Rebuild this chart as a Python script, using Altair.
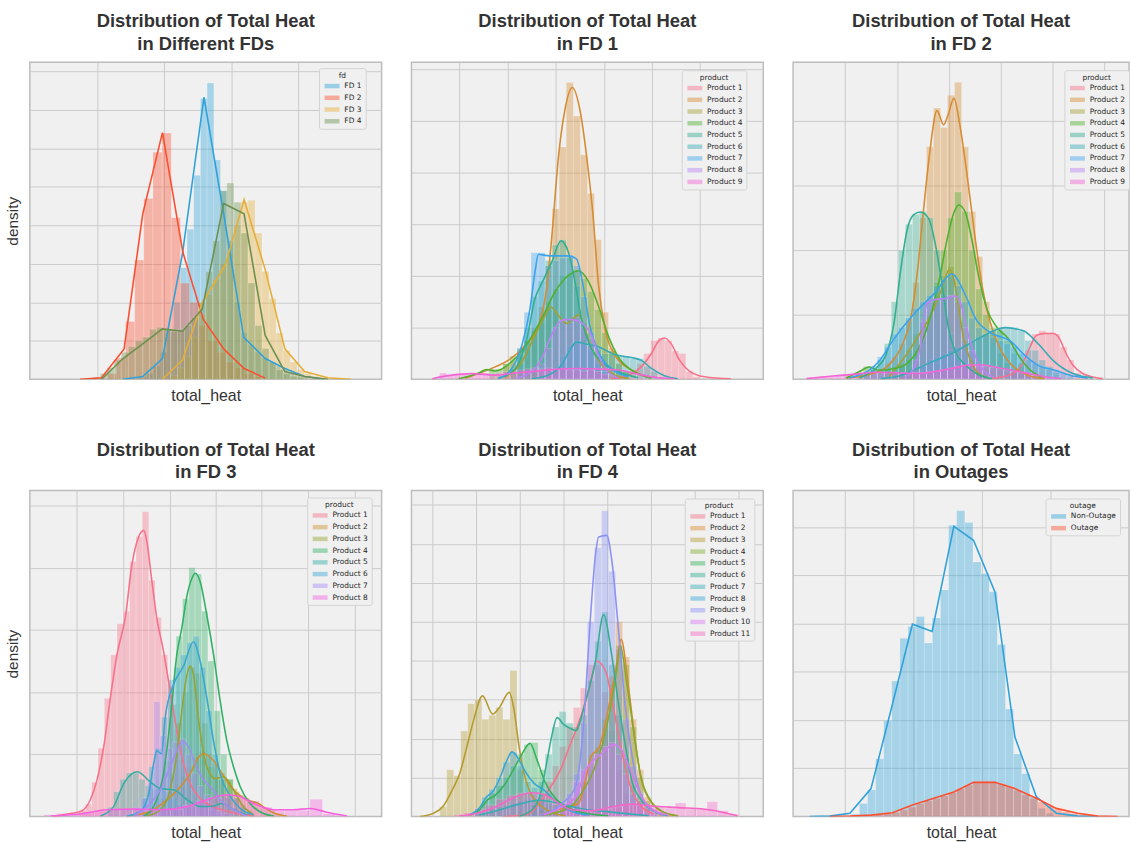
import altair as alt
import pandas as pd

# ---------------- Panel 1: all FDs ----------------
P1_TITLE = ["Distribution of Total Heat", "in Different FDs"]
P1_NAMES = ["FD 1", "FD 2", "FD 3", "FD 4"]
P1_COLORS = ["#30a2da", "#fc4f30", "#e5ae38", "#6d904f"]
P1_FD1_HIST = (31.4, 1.9, [0.05, 0.15, 0.35, 0.7, 1.3, 2.0, 2.9, 3.9, 5.3, 7.3, 7.7, 5.7, 4.9, 3.6, 2.0, 1.2, 0.9, 0.7, 0.55, 0.45, 0.35, 0.25, 0.15, 0.1, 0.05])
P1_FD2_HIST = (22.0, 2.6, [0.15, 0.55, 1.5, 3.1, 4.7, 5.9, 6.4, 4.2, 2.5, 2.0, 1.4, 1.0, 0.7, 0.45, 0.3, 0.15, 0.07])
P1_FD3_HIST = (40.0, 2.0, [0.1, 0.3, 0.6, 1.1, 1.7, 2.2, 2.6, 3.0, 3.3, 4.0, 4.6, 4.65, 3.8, 2.8, 2.1, 1.2, 0.75, 0.45, 0.25, 0.15, 0.08, 0.05, 0.03])
P1_FD4_HIST = (18.0, 2.0, [0.05, 0.15, 0.3, 0.5, 0.7, 0.85, 1.0, 1.1, 1.3, 1.35, 1.3, 1.25, 1.3, 1.4, 1.6, 2.0, 2.8, 3.6, 4.9, 5.1, 4.6, 3.8, 2.5, 1.4, 0.8, 0.45, 0.25, 0.15, 0.08, 0.05])
P1_FD1_CURVE = [(26.5, 0.0), (32.1, 0.07), (37.7, 0.54), (43.4, 3.27), (49.5, 7.33), (55.1, 4.30), (60.8, 1.09), (66.9, 0.54), (72.5, 0.28), (78.1, 0.07), (83.8, 0.0)]
P1_FD2_CURVE = [(14.3, 0.0), (20.4, 0.04), (26.8, 0.79), (32.1, 4.30), (37.7, 6.41), (43.5, 3.30), (49.3, 1.56), (55.1, 0.79), (60.9, 0.28), (66.9, 0.03)]
P1_FD3_CURVE = [(37.7, 0.0), (43.4, 0.50), (49.0, 1.99), (55.6, 2.97), (60.9, 4.67), (66.9, 2.85), (72.5, 0.79), (78.1, 0.20), (84.7, 0.04), (91.3, 0.0)]
P1_FD4_CURVE = [(20.4, 0.0), (26.5, 0.54), (32.1, 0.92), (37.7, 1.31), (43.4, 1.25), (49.0, 1.82), (55.1, 4.57), (60.9, 4.30), (66.9, 1.14), (72.5, 0.20), (78.1, 0.07), (84.7, 0.0)]

# ---------------- Panel 2: FD 1 ----------------
P2_TITLE = ["Distribution of Total Heat", "in FD 1"]
P2_NAMES = ["Product %d" % i for i in range(1, 10)]
P2_COLORS = ["#f77189", "#d58c32", "#a4a031", "#50b131", "#34ae91", "#37abb5", "#3ba3ec", "#bb83f4", "#f564d4"]
P2_PR1_HIST = (62, 2, [0.15, 0.3, 0.5, 0.75, 0.8, 0.75, 0.55, 0.5, 0.15, 0.05])
P2_PR2_HIST = (26, 2, [0.3, 0.35, 0.5, 0.75, 1.0, 1.4, 2.2, 3.3, 4.5, 5.75, 5.1, 4.35, 3.6, 2.7, 1.3, 0.6, 0.3, 0.15])
P2_PR3_HIST = (30, 2, [0.3, 0.6, 0.9, 1.1, 1.4, 1.3, 1.1, 1.15, 1.25, 0.9, 0.55, 0.25, 0.1])
P2_PR4_HIST = (22, 2, [0.2, 0.2, 0.3, 0.45, 0.6, 0.75, 0.95, 1.2, 1.5, 1.75, 2.0, 2.05, 2.1, 1.95, 1.7, 1.35, 0.9, 0.55, 0.3, 0.15])
P2_PR5_HIST = (28, 2, [0.2, 0.5, 1.0, 1.6, 1.9, 2.3, 2.6, 2.7, 2.35, 1.8, 1.1, 0.6, 0.3, 0.15])
P2_PR6_HIST = (40, 2, [0.2, 0.45, 0.65, 0.75, 0.7, 0.65, 0.6, 0.5, 0.5, 0.45, 0.45, 0.4, 0.4, 0.25, 0.15, 0.05])
P2_PR7_HIST = (30, 2, [0.6, 1.3, 2.45, 2.45, 2.2, 2.3, 2.35, 2.4, 2.2, 1.6, 0.9, 0.45, 0.2])
P2_PR8_HIST = (36, 2, [0.3, 0.6, 1.0, 1.15, 1.1, 1.2, 1.0, 0.8, 0.4, 0.15])
P2_PR9_HIST = (8, 2, [0.12, 0.08, 0.1, 0.1, 0.08, 0.1, 0.12, 0.1, 0.12, 0.15, 0.15, 0.18, 0.2, 0.22, 0.2, 0.22, 0.2, 0.2, 0.18, 0.18, 0.16, 0.18, 0.15, 0.1, 0.08, 0.05, 0.04, 0.02, 0.02, 0.01, 0.01, 0.01])
P2_PR1_CURVE = [(56.8, 0.01), (61.6, 0.08), (65.3, 0.24), (68.2, 0.50), (70.5, 0.76), (72.0, 0.80), (73.8, 0.69), (76.2, 0.37), (79.0, 0.16), (83.3, 0.05), (90.8, 0.01)]
P2_PR2_CURVE = [(15.3, 0.02), (23.8, 0.24), (27.6, 0.37), (32.3, 0.66), (36.1, 1.04), (38.4, 1.75), (40.0, 2.84), (41.7, 4.25), (43.6, 5.21), (45.7, 5.65), (47.9, 5.21), (49.8, 4.31), (51.7, 3.10), (53.1, 1.88), (55.0, 0.98), (57.8, 0.47), (62.5, 0.18), (68.2, 0.03)]
P2_PR3_CURVE = [(26.6, 0.05), (31.4, 0.34), (35.1, 0.85), (38.0, 1.24), (39.6, 1.40), (41.7, 1.24), (44.1, 1.08), (45.5, 1.14), (47.4, 1.25), (49.3, 0.98), (51.2, 0.60), (54.0, 0.28), (57.8, 0.08), (62.0, 0.01)]
P2_PR4_CURVE = [(13.4, 0.01), (19.1, 0.12), (21.4, 0.19), (23.8, 0.16), (28.5, 0.34), (33.2, 0.72), (37.0, 1.17), (40.8, 1.69), (44.6, 2.01), (47.4, 2.10), (50.2, 1.91), (53.1, 1.43), (55.9, 0.85), (58.7, 0.44), (62.5, 0.18), (68.2, 0.02)]
P2_PR5_CURVE = [(24.7, 0.02), (29.5, 0.21), (32.8, 0.79), (35.1, 1.56), (37.2, 1.88), (39.8, 2.26), (42.5, 2.68), (44.6, 2.46), (46.5, 1.88), (48.3, 1.17), (50.7, 0.66), (54.0, 0.34), (58.7, 0.15), (64.4, 0.03)]
P2_PR6_CURVE = [(34.2, 0.01), (38.9, 0.08), (42.7, 0.28), (45.0, 0.56), (46.9, 0.72), (49.3, 0.69), (53.1, 0.63), (57.8, 0.48), (62.5, 0.42), (65.3, 0.37), (68.2, 0.21), (71.9, 0.07), (75.7, 0.01)]
P2_PR7_CURVE = [(24.7, 0.02), (28.5, 0.21), (31.4, 0.66), (33.7, 1.37), (35.1, 2.07), (36.1, 2.42), (38.0, 2.40), (40.8, 2.39), (44.6, 2.39), (46.9, 2.33), (48.8, 1.81), (50.7, 1.04), (53.1, 0.53), (56.8, 0.21), (61.6, 0.05)]
P2_PR8_CURVE = [(29.5, 0.02), (34.2, 0.15), (37.0, 0.40), (39.8, 0.85), (42.2, 1.12), (44.1, 1.16), (46.9, 1.14), (49.3, 1.04), (51.2, 0.85), (53.1, 0.47), (55.4, 0.18), (58.7, 0.03)]
P2_PR9_CURVE = [(5.9, 0.01), (11.5, 0.08), (17.2, 0.11), (23.8, 0.08), (29.5, 0.12), (36.1, 0.16), (41.7, 0.20), (47.4, 0.21), (53.1, 0.20), (58.7, 0.18), (64.4, 0.10), (70.1, 0.03), (74.8, 0.01)]

# ---------------- Panel 3: FD 2 ----------------
P3_TITLE = ["Distribution of Total Heat", "in FD 2"]
P3_NAMES = ["Product %d" % i for i in range(1, 10)]
P3_COLORS = ["#f77189", "#d58c32", "#a4a031", "#50b131", "#34ae91", "#37abb5", "#3ba3ec", "#bb83f4", "#f564d4"]
P3_PR1_HIST = (62, 2, [0.1, 0.2, 0.45, 0.7, 0.75, 0.72, 0.7, 0.5, 0.3, 0.1, 0.05])
P3_PR2_HIST = (26, 2, [0.25, 0.35, 0.55, 0.9, 1.5, 2.5, 3.6, 4.2, 3.9, 4.4, 4.6, 3.6, 2.6, 1.9, 1.2, 0.7, 0.4, 0.25, 0.15, 0.08])
P3_PR3_HIST = (30, 2, [0.25, 0.45, 0.7, 0.85, 1.05, 1.3, 1.6, 1.75, 1.2, 0.6, 0.3, 0.1])
P3_PR4_HIST = (18, 2, [0.1, 0.2, 0.15, 0.15, 0.15, 0.2, 0.2, 0.3, 0.4, 0.6, 1.0, 1.5, 2.0, 2.5, 2.9, 2.6, 2.0, 1.4, 1.0, 0.8, 0.75, 0.6, 0.4, 0.25, 0.1])
P3_PR5_HIST = (20, 2, [0.1, 0.15, 0.3, 0.55, 1.2, 2.0, 2.4, 2.55, 2.6, 2.5, 2.0, 1.3, 0.7, 0.35, 0.2, 0.1])
P3_PR6_HIST = (36, 2, [0.2, 0.3, 0.35, 0.4, 0.45, 0.5, 0.55, 0.6, 0.65, 0.7, 0.75, 0.8, 0.8, 0.8, 0.75, 0.6, 0.45, 0.3, 0.2, 0.1])
P3_PR7_HIST = (20, 2, [0.1, 0.2, 0.35, 0.5, 0.7, 0.8, 0.95, 1.1, 1.2, 1.3, 1.45, 1.55, 1.6, 1.45, 1.2, 0.95, 0.8, 0.7, 0.65, 0.6, 0.55, 0.5, 0.4, 0.3, 0.25, 0.2, 0.15, 0.15, 0.1, 0.05])
P3_PR8_HIST = (34, 2, [0.3, 0.9, 1.2, 1.2, 1.25, 1.3, 1.2, 0.8, 0.45, 0.2, 0.05])
P3_PR9_HIST = (6, 2, [0.03, 0.05, 0.05, 0.06, 0.08, 0.08, 0.1, 0.1, 0.1, 0.1, 0.1, 0.1, 0.1, 0.1, 0.1, 0.1, 0.12, 0.13, 0.15, 0.17, 0.2, 0.22, 0.22, 0.22, 0.2, 0.18, 0.16, 0.14, 0.12, 0.1, 0.08, 0.06, 0.04, 0.02])
P3_PR1_CURVE = [(56.6, 0.01), (62.3, 0.08), (65.1, 0.22), (67.5, 0.50), (69.3, 0.68), (71.7, 0.71), (74.1, 0.71), (75.9, 0.63), (77.5, 0.43), (79.7, 0.22), (82.5, 0.09), (85.8, 0.03), (88.2, 0.01)]
P3_PR2_CURVE = [(15.1, 0.02), (22.6, 0.09), (27.4, 0.23), (31.1, 0.53), (33.5, 0.94), (35.4, 1.66), (37.0, 2.53), (38.9, 3.50), (41.0, 4.16), (42.9, 3.94), (44.3, 4.12), (45.8, 4.35), (47.6, 3.91), (49.5, 3.19), (51.9, 2.17), (54.0, 1.40), (56.1, 0.89), (58.9, 0.48), (62.3, 0.22), (67.0, 0.06), (71.7, 0.01)]
P3_PR3_CURVE = [(27.4, 0.04), (32.1, 0.37), (35.8, 0.68), (39.2, 0.99), (42.0, 1.35), (43.4, 1.58), (44.5, 1.70), (45.8, 1.55), (47.2, 1.09), (48.6, 0.63), (50.5, 0.30), (52.8, 0.09), (55.7, 0.02)]
P3_PR4_CURVE = [(15.1, 0.02), (18.9, 0.12), (21.7, 0.19), (24.5, 0.14), (29.2, 0.17), (33.0, 0.27), (35.8, 0.48), (38.7, 0.89), (41.5, 1.50), (43.9, 2.17), (45.8, 2.58), (47.2, 2.70), (49.1, 2.58), (50.9, 2.17), (52.8, 1.61), (55.2, 1.09), (58.0, 0.81), (61.3, 0.63), (64.2, 0.37), (67.0, 0.17), (70.8, 0.03)]
P3_PR5_CURVE = [(18.9, 0.02), (23.6, 0.17), (26.4, 0.37), (28.8, 0.89), (30.7, 1.71), (32.5, 2.32), (34.4, 2.55), (36.3, 2.59), (38.7, 2.48), (40.6, 2.07), (42.5, 1.45), (44.3, 0.78), (46.2, 0.43), (49.1, 0.22), (52.8, 0.07), (56.6, 0.01)]
P3_PR6_CURVE = [(25.0, 0.01), (30.2, 0.05), (38.7, 0.25), (46.3, 0.43), (52.8, 0.63), (60.4, 0.80), (65.6, 0.75), (69.8, 0.55), (74.1, 0.29), (79.7, 0.09), (85.4, 0.02)]
P3_PR7_CURVE = [(16.0, 0.02), (21.7, 0.14), (24.5, 0.28), (28.8, 0.63), (33.9, 0.98), (40.6, 1.35), (45.2, 1.63), (49.2, 1.29), (52.0, 0.94), (55.7, 0.74), (62.2, 0.58), (66.0, 0.37), (69.7, 0.22), (74.6, 0.14), (79.1, 0.06), (83.9, 0.02)]
P3_PR8_CURVE = [(31.6, 0.02), (34.4, 0.17), (36.4, 0.55), (38.1, 1.17), (40.1, 1.23), (43.5, 1.25), (46.3, 1.29), (48.0, 1.14), (49.5, 0.78), (51.4, 0.43), (53.8, 0.17), (57.1, 0.03)]
P3_PR9_CURVE = [(3.8, 0.01), (11.3, 0.05), (17.9, 0.08), (23.6, 0.11), (29.2, 0.10), (35.8, 0.09), (41.5, 0.13), (46.2, 0.18), (50.0, 0.22), (53.8, 0.22), (57.5, 0.19), (62.3, 0.14), (67.0, 0.09), (71.7, 0.04), (76.4, 0.01)]

# ---------------- Panel 4: FD 3 ----------------
P4_TITLE = ["Distribution of Total Heat", "in FD 3"]
P4_NAMES = ["Product %d" % i for i in range(1, 9)]
P4_COLORS = ["#f77189", "#ce9032", "#97a431", "#32b166", "#36ada4", "#39a7d0", "#a48cf4", "#f561dd"]
P4_PR1_HIST = (14, 1.8, [0.1, 0.2, 0.55, 1.1, 1.9, 2.6, 3.1, 3.3, 4.1, 4.5, 4.9, 3.8, 3.2, 2.6, 2.1, 1.4, 0.9, 0.6, 0.35, 0.2, 0.1])
P4_PR2_HIST = (32, 1.8, [0.05, 0.1, 0.2, 0.3, 0.4, 0.5, 0.65, 0.8, 0.95, 1.05, 1.0, 0.85, 0.7, 0.55, 0.45, 0.35, 0.3, 0.25, 0.2, 0.15, 0.1, 0.05])
P4_PR3_HIST = (38, 1.8, [0.2, 0.7, 1.5, 2.0, 2.4, 2.3, 1.5, 0.8, 0.6, 0.6, 0.6, 0.4, 0.2, 0.1])
P4_PR4_HIST = (36.2, 1.8, [0.3, 0.9, 1.8, 2.9, 3.5, 4.0, 3.9, 3.3, 2.5, 1.7, 1.0, 0.6, 0.3, 0.15, 0.05])
P4_PR5_HIST = (22, 1.8, [0.15, 0.4, 0.6, 0.7, 0.7, 0.6, 0.5, 0.45, 0.45, 0.4, 0.3, 0.2, 0.15, 0.15, 0.2, 0.2, 0.1, 0.05])
P4_PR6_HIST = (32, 1.8, [0.3, 0.8, 1.1, 1.6, 2.2, 2.4, 2.6, 2.8, 2.9, 2.4, 1.7, 1.0, 0.6, 0.3, 0.15])
P4_PR7_HIST = (28, 1.8, [0.05, 0.15, 0.3, 0.55, 1.85, 1.3, 1.1, 1.2, 1.25, 1.0, 0.7, 0.5, 0.35, 0.2, 0.1, 0.05])
P4_PR8_HIST = (4, 3.6, [0.03, 0.05, 0.05, 0.08, 0.1, 0.12, 0.12, 0.12, 0.1, 0.12, 0.12, 0.18, 0.25, 0.3, 0.35, 0.3, 0.25, 0.15, 0.1, 0.1, 0.1, 0.28, 0.05, 0.02])
P4_PR1_CURVE = [(6.8, 0.0), (11.5, 0.05), (14.4, 0.08), (17.2, 0.27), (19.1, 0.59), (21.0, 1.12), (22.9, 1.91), (24.8, 2.61), (27.2, 3.22), (29.0, 4.04), (30.9, 4.49), (32.4, 4.60), (33.3, 4.41), (34.7, 3.78), (36.1, 3.19), (38.0, 2.66), (39.9, 2.02), (41.8, 1.38), (43.7, 0.85), (45.6, 0.53), (48.4, 0.29), (52.2, 0.16), (57.9, 0.06), (63.6, 0.01)]
P4_PR2_CURVE = [(27.6, 0.01), (34.2, 0.08), (39.0, 0.27), (42.8, 0.48), (45.6, 0.69), (48.0, 0.96), (49.6, 1.01), (52.2, 0.90), (55.1, 0.65), (57.9, 0.43), (61.7, 0.27), (65.0, 0.21), (67.4, 0.12), (70.2, 0.04), (73.0, 0.01)]
P4_PR3_CURVE = [(33.3, 0.01), (37.1, 0.11), (39.9, 0.43), (41.8, 1.01), (43.2, 1.70), (44.7, 2.29), (45.6, 2.42), (46.5, 2.29), (48.0, 1.54), (50.3, 0.80), (52.7, 0.61), (55.1, 0.64), (57.9, 0.43), (60.7, 0.16), (63.6, 0.03)]
P4_PR4_CURVE = [(32.4, 0.01), (35.2, 0.16), (38.0, 0.69), (39.9, 1.54), (41.8, 2.61), (43.2, 3.03), (44.7, 3.56), (46.1, 3.83), (47.0, 3.91), (48.4, 3.78), (50.3, 3.24), (52.2, 2.61), (54.1, 1.86), (56.0, 1.22), (57.9, 0.80), (59.8, 0.48), (62.6, 0.21), (66.4, 0.05), (69.3, 0.01)]
P4_PR5_CURVE = [(20.1, 0.01), (23.8, 0.16), (26.7, 0.53), (30.5, 0.72), (34.2, 0.56), (37.1, 0.45), (40.9, 0.43), (44.7, 0.27), (48.4, 0.16), (52.2, 0.17), (54.6, 0.21), (57.9, 0.11), (61.7, 0.03)]
P4_PR6_CURVE = [(27.6, 0.01), (31.4, 0.08), (33.8, 0.37), (35.2, 0.85), (36.1, 1.06), (37.4, 1.01), (38.5, 1.60), (40.9, 2.13), (43.7, 2.42), (46.5, 2.81), (48.4, 2.50), (50.3, 1.91), (52.2, 1.22), (54.1, 0.69), (57.0, 0.32), (59.8, 0.13), (63.6, 0.03)]
P4_PR7_CURVE = [(29.5, 0.01), (33.3, 0.16), (37.1, 0.43), (39.9, 0.80), (41.8, 1.06), (43.5, 1.21), (45.1, 1.12), (47.0, 0.85), (49.4, 0.59), (51.8, 0.45), (54.1, 0.27), (57.9, 0.11), (61.7, 0.01)]
P4_PR8_CURVE = [(5.9, 0.01), (15.3, 0.05), (21.9, 0.11), (29.5, 0.12), (37.1, 0.11), (44.7, 0.16), (50.3, 0.27), (56.0, 0.35), (59.8, 0.32), (63.6, 0.21), (69.3, 0.11), (74.9, 0.11), (79.7, 0.13), (84.4, 0.07), (90.1, 0.01)]

# ---------------- Panel 5: FD 4 ----------------
P5_TITLE = ["Distribution of Total Heat", "in FD 4"]
P5_NAMES = ["Product %d" % i for i in range(1, 12)]
P5_COLORS = ["#f77189", "#db8a32", "#b59a31", "#83aa31", "#36b25a", "#34ae95", "#37acb2", "#39a7d6", "#8c92f4", "#d87af3", "#f567c4"]
P5_PR1_HIST = (32, 2, [0.1, 0.3, 0.6, 0.9, 1.3, 1.8, 2.3, 2.8, 3.3, 3.9, 3.9, 3.2, 2.2, 1.2, 0.6, 0.3, 0.1])
P5_PR2_HIST = (36, 2, [0.05, 0.1, 0.2, 0.3, 0.4, 0.5, 0.9, 1.6, 1.75, 2.3, 3.6, 5.0, 4.1, 2.5, 1.2, 0.5, 0.2, 0.1, 0.05])
P5_PR3_HIST = (8, 2, [0.25, 1.2, 1.05, 2.2, 2.9, 3.0, 2.5, 2.6, 2.8, 2.5, 3.75, 1.2, 0.6, 0.3, 0.15, 0.1])
P5_PR4_HIST = (38, 2, [0.05, 0.1, 0.2, 0.3, 0.5, 0.8, 1.2, 1.8, 2.5, 3.4, 4.4, 3.9, 2.3, 1.0, 0.4, 0.15, 0.05])
P5_PR5_HIST = (18, 2, [0.15, 0.4, 0.6, 0.8, 1.0, 1.3, 1.6, 1.85, 1.9, 1.2, 0.6, 0.3, 0.15, 0.05])
P5_PR6_HIST = (34, 2, [0.3, 0.9, 1.6, 2.3, 2.7, 2.4, 2.3, 2.6, 3.5, 4.5, 5.25, 3.9, 2.6, 1.5, 0.8, 0.4, 0.2, 0.1])
P5_PR7_HIST = (18, 2, [0.05, 0.1, 0.2, 0.25, 0.3, 0.35, 0.4, 0.45, 0.45, 0.4, 0.35, 0.3, 0.25, 0.2, 0.15, 0.1, 0.1, 0.05, 0.05, 0.05, 0.02])
P5_PR8_HIST = (18, 2, [0.2, 0.5, 0.7, 1.0, 1.4, 1.65, 1.3, 0.9, 0.75, 0.6, 0.4, 0.2, 0.1])
P5_PR9_HIST = (42, 2, [0.3, 0.6, 1.1, 2.4, 5.0, 6.9, 7.85, 6.3, 4.3, 2.5, 1.3, 0.6, 0.25, 0.1])
P5_PR10_HIST = (40, 2, [0.15, 0.3, 0.5, 0.9, 1.2, 1.4, 1.6, 1.8, 1.9, 1.6, 1.1, 0.6, 0.3, 0.1, 0.05])
P5_PR11_HIST = (12, 3, [0.05, 0.1, 0.2, 0.3, 0.45, 0.55, 0.6, 0.6, 0.5, 0.35, 0.2, 0.15, 0.15, 0.15, 0.2, 0.25, 0.3, 0.3, 0.28, 0.25, 0.22, 0.35, 0.2, 0.2, 0.38, 0.15, 0.05])
P5_PR1_CURVE = [(26.0, 0.0), (32.0, 0.04), (34.8, 0.17), (37.1, 0.43), (39.9, 0.81), (42.7, 1.27), (44.7, 1.75), (46.7, 2.21), (48.7, 2.72), (50.4, 3.24), (52.7, 3.99), (55.2, 3.73), (57.4, 2.80), (59.7, 1.70), (62.6, 0.68), (65.4, 0.25), (68.8, 0.07)]
P5_PR2_CURVE = [(36.2, 0.04), (41.0, 0.17), (47.5, 0.34), (49.5, 0.94), (51.2, 1.57), (53.2, 1.75), (56.0, 2.79), (58.0, 3.74), (59.6, 4.55), (61.7, 3.31), (63.6, 1.95), (65.4, 0.93), (68.3, 0.35), (72.0, 0.09), (75.7, 0.02)]
P5_PR3_CURVE = [(2.4, 0.0), (6.1, 0.08), (8.9, 0.25), (11.8, 0.72), (13.7, 1.10), (15.5, 1.70), (17.4, 2.38), (20.2, 3.10), (23.1, 2.63), (25.0, 2.80), (27.8, 3.19), (29.2, 2.72), (30.6, 1.78), (32.5, 0.93), (34.4, 0.51), (37.2, 0.25), (40.0, 0.10), (43.8, 0.02)]
P5_PR4_CURVE = [(37.6, 0.04), (44.7, 0.22), (48.9, 0.68), (51.8, 1.19), (54.6, 1.96), (56.9, 2.97), (58.3, 3.74), (59.4, 4.38), (61.1, 3.49), (63.1, 2.21), (65.1, 1.06), (67.9, 0.42), (71.6, 0.12), (75.7, 0.02)]
P5_PR5_CURVE = [(16.5, 0.04), (19.3, 0.17), (21.6, 0.43), (23.6, 0.53), (26.4, 0.81), (28.9, 1.19), (31.2, 1.57), (33.7, 1.88), (35.7, 1.45), (38.0, 0.88), (40.8, 0.48), (44.7, 0.22), (50.4, 0.07), (56.0, 0.02)]
P5_PR6_CURVE = [(30.5, 0.0), (34.8, 0.22), (36.2, 0.43), (38.2, 1.27), (39.9, 2.08), (41.4, 2.54), (43.3, 2.36), (45.3, 2.26), (46.7, 2.21), (49.5, 2.97), (52.3, 3.99), (54.6, 5.18), (56.9, 4.16), (58.9, 2.86), (60.9, 1.78), (62.6, 0.93), (65.4, 0.42), (69.3, 0.12), (72.9, 0.02)]
P5_PR7_CURVE = [(19.3, 0.04), (24.9, 0.17), (30.6, 0.32), (36.2, 0.42), (40.4, 0.37), (44.7, 0.27), (50.4, 0.17), (56.1, 0.12), (61.7, 0.07), (67.4, 0.02)]
P5_PR8_CURVE = [(16.5, 0.04), (19.3, 0.22), (21.3, 0.50), (23.0, 0.63), (24.9, 0.94), (26.9, 1.40), (28.6, 1.66), (30.6, 1.45), (32.6, 1.12), (34.8, 0.86), (37.7, 0.68), (40.5, 0.43), (44.7, 0.17), (50.4, 0.04)]
P5_PR9_CURVE = [(36.2, 0.04), (40.5, 0.17), (42.8, 0.34), (46.6, 0.76), (49.0, 2.46), (50.8, 5.01), (52.3, 6.71), (53.2, 7.18), (55.5, 7.22), (57.0, 6.54), (58.8, 4.84), (60.7, 2.89), (62.6, 1.61), (64.5, 0.76), (67.3, 0.25), (72.0, 0.04)]
P5_PR10_CURVE = [(37.6, 0.04), (42.8, 0.25), (46.7, 0.51), (49.5, 1.19), (51.7, 1.44), (54.1, 1.62), (57.4, 1.85), (59.8, 1.70), (62.6, 1.11), (65.4, 0.51), (68.8, 0.17), (73.0, 0.04)]
P5_PR11_CURVE = [(13.7, 0.02), (19.3, 0.10), (24.0, 0.25), (28.7, 0.47), (34.4, 0.61), (38.1, 0.55), (41.9, 0.34), (45.7, 0.17), (51.3, 0.15), (57.0, 0.25), (62.6, 0.32), (68.3, 0.27), (75.8, 0.23), (83.3, 0.19), (89.0, 0.10), (92.7, 0.02)]

# ---------------- Panel 6: outages ----------------
P6_TITLE = ["Distribution of Total Heat", "in Outages"]
P6_NAMES = ["Non-Outage", "Outage"]
P6_COLORS = ["#30a2da", "#fc4f30"]
P6_NON_HIST = (14.28, 2.31, [0.02, 0.05, 0.27, 0.55, 1.2, 1.99, 2.81, 3.70, 3.94, 4.15, 3.60, 4.12, 4.70, 6.04, 6.34, 6.10, 5.28, 5.04, 4.66, 3.57, 2.23, 1.30, 0.89, 0.41, 0.17, 0.07])
P6_OUT_HIST = (14.28, 2.31, [0.0, 0.01, 0.02, 0.03, 0.04, 0.06, 0.09, 0.14, 0.2, 0.27, 0.33, 0.38, 0.43, 0.5, 0.58, 0.66, 0.72, 0.73, 0.72, 0.68, 0.62, 0.55, 0.46, 0.38, 0.3, 0.22, 0.15, 0.1, 0.07, 0.04, 0.02, 0.01])
P6_NON_CURVE = [(4.7, 0.0), (10.4, 0.01), (16.2, 0.07), (22.2, 0.58), (28.3, 2.33), (34.0, 3.99), (39.6, 3.84), (45.8, 6.02), (51.4, 5.73), (57.5, 4.66), (63.2, 1.65), (69.3, 0.41), (75.0, 0.07), (81.1, 0.01), (86.8, 0.0)]
P6_OUT_CURVE = [(10.4, 0.0), (16.2, 0.01), (22.2, 0.03), (28.3, 0.08), (34.0, 0.24), (40.1, 0.38), (45.8, 0.51), (51.4, 0.71), (57.5, 0.71), (63.2, 0.58), (69.3, 0.38), (75.0, 0.17), (81.1, 0.07), (86.8, 0.01), (92.5, 0.0)]

FONT = "Liberation Sans"
LEG_FONT = "DejaVu Sans"
SWATCH = "M-0.5,-0.6L3.5,-0.6L3.5,0.6L-0.5,0.6Z"
GRID = "#cbcbcb"
TXT = "#333333"


def frames(names, hists, curves):
    bar_rows, line_rows = [], []
    for k, name in enumerate(names):
        start, width, heights = hists[k]
        for i, h in enumerate(heights):
            bar_rows.append({"series": name, "k": k, "x0": start + i * width,
                             "x1": start + (i + 1) * width, "h": h, "base": 0.0})
        for j, (x, y) in enumerate(curves[k]):
            line_rows.append({"series": name, "k": k, "x": x, "y": y, "j": j})
    return pd.DataFrame(bar_rows), pd.DataFrame(line_rows)


def panel(title, names, colors, hists, curves, width, height, xmax, ymax,
          xgrid, ygrid, ytitle, legend_title, lx, ly, interp):
    bars_df, lines_df = frames(names, hists, curves)
    xs = alt.Scale(domain=[0, xmax], nice=False, zero=False)
    ys = alt.Scale(domain=[0, ymax], nice=False, zero=True)
    xaxis = alt.Axis(values=xgrid, labels=False, ticks=False, domain=False, grid=True,
                     gridColor=GRID, gridWidth=1, title="total_heat", titleFont=FONT,
                     titleFontSize=16, titleFontWeight="normal", titleColor=TXT, titlePadding=8)
    yaxis = alt.Axis(values=ygrid, labels=False, ticks=False, domain=False, grid=True,
                     gridColor=GRID, gridWidth=1, title=ytitle, titleFont=FONT,
                     titleFontSize=15.5, titleFontWeight="normal", titleColor=TXT, titlePadding=9)
    legend = alt.Legend(orient="none", legendX=lx, legendY=ly, title=legend_title,
                        titleFont=LEG_FONT, titleFontSize=7.5, titleFontWeight="normal",
                        titleColor="#262626", titleAnchor="middle", titlePadding=3,
                        labelFont=LEG_FONT, labelFontSize=7.5, labelColor="#262626",
                        symbolType=SWATCH, symbolSize=56, symbolOpacity=0.45,
                        symbolStrokeWidth=0, labelOffset=14, rowPadding=3.8, padding=3.5,
                        fillColor="#f0f0f0", strokeColor="#d4d4d4", cornerRadius=2)
    bars = alt.Chart(bars_df).mark_rect(fillOpacity=0.38, stroke="#ffffff", strokeWidth=0.5,
                                         strokeOpacity=0.35, clip=True).encode(
        x=alt.X("x0:Q", scale=xs, axis=xaxis),
        x2="x1:Q",
        y=alt.Y("h:Q", scale=ys, axis=yaxis),
        y2="base:Q",
        fill=alt.Fill("series:N", scale=alt.Scale(domain=names, range=colors), legend=legend),
        order=alt.Order("k:Q"),
    )
    lines = alt.Chart(lines_df).mark_line(strokeWidth=1.6, interpolate=interp, clip=True).encode(
        x=alt.X("x:Q", scale=xs),
        y=alt.Y("y:Q", scale=ys),
        stroke=alt.Stroke("series:N", scale=alt.Scale(domain=names, range=colors), legend=None),
        detail="series:N",
        order=alt.Order("j:Q"),
    )
    return alt.layer(bars, lines).properties(
        width=width, height=height,
        title=alt.TitleParams(text=title, font=FONT, fontSize=18.5, fontWeight="bold",
                              color=TXT, anchor="middle", frame="group", offset=9,
                              lineHeight=22.6),
    )


TOP_H, BOT_H = 319, 328
W, W_LAST = 354, 338

p1 = panel(P1_TITLE, P1_NAMES, P1_COLORS,
           [P1_FD1_HIST, P1_FD2_HIST, P1_FD3_HIST, P1_FD4_HIST],
           [P1_FD1_CURVE, P1_FD2_CURVE, P1_FD3_CURVE, P1_FD4_CURVE],
           W, TOP_H, 100, 8.24, [19.1, 38.2, 57.3, 76.4], [1, 2, 3, 4, 5, 6, 7, 8],
           "density", "fd", 291, 6, "linear")
p2 = panel(P2_TITLE, P2_NAMES, P2_COLORS,
           [P2_PR1_HIST, P2_PR2_HIST, P2_PR3_HIST, P2_PR4_HIST, P2_PR5_HIST, P2_PR6_HIST, P2_PR7_HIST, P2_PR8_HIST, P2_PR9_HIST],
           [P2_PR1_CURVE, P2_PR2_CURVE, P2_PR3_CURVE, P2_PR4_CURVE, P2_PR5_CURVE, P2_PR6_CURVE, P2_PR7_CURVE, P2_PR8_CURVE, P2_PR9_CURVE],
           W, TOP_H, 100, 6.14, [13.6, 27.3, 41.0, 54.7, 68.3, 82.0], [1, 2, 3, 4, 5, 6],
           None, "product", 272, 8, "monotone")
p3 = panel(P3_TITLE, P3_NAMES, P3_COLORS,
           [P3_PR1_HIST, P3_PR2_HIST, P3_PR3_HIST, P3_PR4_HIST, P3_PR5_HIST, P3_PR6_HIST, P3_PR7_HIST, P3_PR8_HIST, P3_PR9_HIST],
           [P3_PR1_CURVE, P3_PR2_CURVE, P3_PR3_CURVE, P3_PR4_CURVE, P3_PR5_CURVE, P3_PR6_CURVE, P3_PR7_CURVE, P3_PR8_CURVE, P3_PR9_CURVE],
           W_LAST, TOP_H, 95.7, 4.91, [14.8, 29.7, 44.5, 59.2, 73.9, 88.7], [1, 2, 3, 4],
           None, "product", 273, 8, "monotone")
p4 = panel(P4_TITLE, P4_NAMES, P4_COLORS,
           [P4_PR1_HIST, P4_PR2_HIST, P4_PR3_HIST, P4_PR4_HIST, P4_PR5_HIST, P4_PR6_HIST, P4_PR7_HIST, P4_PR8_HIST],
           [P4_PR1_CURVE, P4_PR2_CURVE, P4_PR3_CURVE, P4_PR4_CURVE, P4_PR5_CURVE, P4_PR6_CURVE, P4_PR7_CURVE, P4_PR8_CURVE],
           W, BOT_H, 100, 5.24, [13.4, 26.5, 39.7, 52.9, 65.9, 79.1, 92.4], [1, 2, 3, 4, 5],
           "density", "product", 279, 7, "monotone")
p5 = panel(P5_TITLE, P5_NAMES, P5_COLORS,
           [P5_PR1_HIST, P5_PR2_HIST, P5_PR3_HIST, P5_PR4_HIST, P5_PR5_HIST, P5_PR6_HIST, P5_PR7_HIST, P5_PR8_HIST, P5_PR9_HIST, P5_PR10_HIST, P5_PR11_HIST],
           [P5_PR1_CURVE, P5_PR2_CURVE, P5_PR3_CURVE, P5_PR4_CURVE, P5_PR5_CURVE, P5_PR6_CURVE, P5_PR7_CURVE, P5_PR8_CURVE, P5_PR9_CURVE, P5_PR10_CURVE, P5_PR11_CURVE],
           W, BOT_H, 100, 8.37, [5.9, 18.5, 30.9, 43.3, 55.6, 68.1, 80.5, 92.8], [1, 2, 3, 4, 5, 6, 7, 8],
           None, "product", 275, 8, "monotone")
p6 = panel(P6_TITLE, P6_NAMES, P6_COLORS,
           [P6_NON_HIST, P6_OUT_HIST], [P6_NON_CURVE, P6_OUT_CURVE],
           W_LAST, BOT_H, 95.7, 6.76, [14.8, 34.2, 53.8, 73.4], [1, 2, 3, 4, 5, 6],
           None, "outage", 254, 8, "linear")

IND = dict(fill="independent", stroke="independent", x="independent", y="independent")
row1 = alt.hconcat(p1, p2, p3, spacing=28).resolve_scale(**IND).resolve_legend(fill="independent")
row2 = alt.hconcat(p4, p5, p6, spacing=28).resolve_scale(**IND).resolve_legend(fill="independent")
chart = (alt.vconcat(row1, row2, spacing=36)
         .resolve_scale(**IND).resolve_legend(fill="independent")
         .properties(padding={"left": 5, "top": 9, "right": 0, "bottom": 4}, background="white")
         .configure_view(fill="#f0f0f0", stroke="#bdbdbd", strokeWidth=1.5))

chart.save("out.html", embed_options={"renderer": "svg", "actions": False})
